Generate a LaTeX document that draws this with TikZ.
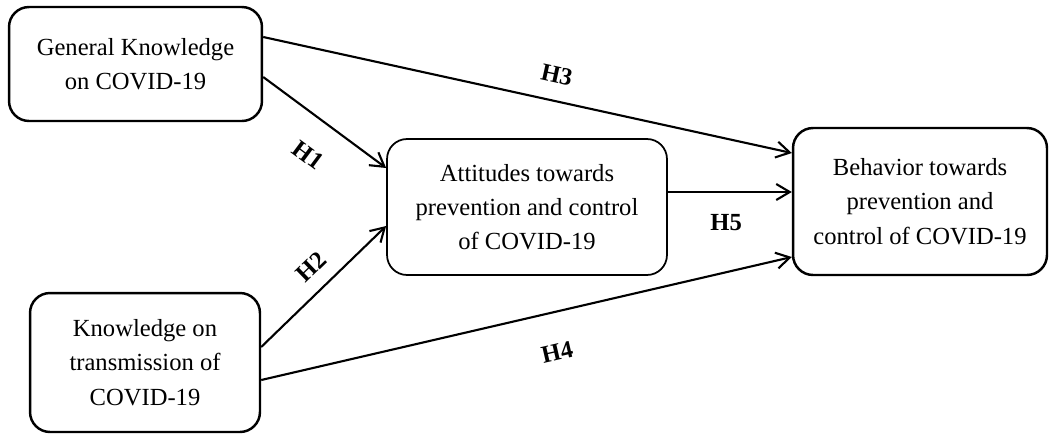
\documentclass[tikz,border=0pt]{standalone}
\usepackage{fontspec}
\setmainfont{Liberation Serif}
\usepackage{tikz}
\usetikzlibrary{arrows.meta, positioning, calc}

\begin{document}
\begin{tikzpicture}[x=0.02cm, y=0.02cm, >={Straight Barb[length=2.7mm, width=3.2mm]},
  construct/.style={rectangle, draw=black, line width=1.4pt, rounded corners=0.4cm, align=center, inner sep=4pt, font=\fontsize{14}{19.5}\selectfont},
  hyp/.style={font=\fontsize{14}{16}\selectfont\bfseries, inner sep=0pt, anchor=center, sloped},
  link/.style={->, line width=1.2pt}]

  \useasboundingbox (0,0) rectangle (1050,-433);

  \node [construct, minimum width=5.06cm, minimum height=2.28cm] (gk) at (135.5,-64) {General Knowledge\\ on COVID-19};
  \node [construct, minimum width=4.6cm, minimum height=2.78cm] (kt) at (145,-362.5) {Knowledge on\\ transmission of\\ COVID-19};
  \node [construct, line width=1pt, minimum width=5.6cm, minimum height=2.72cm] (att) at (527,-207) {Attitudes towards\\ prevention and control\\ of COVID-19};
  \node [construct, minimum width=5.08cm, minimum height=2.94cm] (beh) at (920,-201.5) {Behavior towards\\ prevention and\\ control of COVID-19};

  \draw[link] ($(gk.east)+(0,27)$) -- node[hyp, pos=.545, yshift=14.7pt] {H3} ($(beh.west)+(0,48.5)$);
  \draw[link] ($(gk.east)+(0,-13)$) -- node[hyp, pos=.54, yshift=-20.4pt] {H1} ($(att.west)+(0,39)$);
  \draw[link] ($(att.east)+(0,15)$) -- node[hyp, pos=.47, yshift=-17.6pt] {H5} ($(beh.west)+(0,9.5)$);
  \draw[link] ($(kt.east)+(0,15.5)$) -- node[hyp, pos=.526, yshift=12.9pt] {H2} ($(att.west)+(0,-19)$);
  \draw[link] ($(kt.east)+(0,-17.5)$) -- node[hyp, pos=.541, yshift=-22.5pt] {H4} ($(beh.west)+(0,-55.5)$);
\end{tikzpicture}
\end{document}
